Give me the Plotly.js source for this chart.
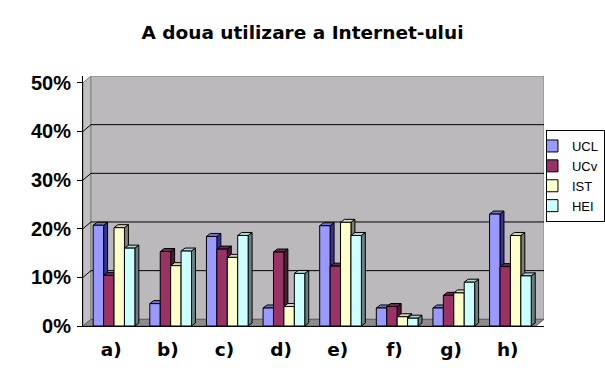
<!DOCTYPE html>
<html>
<head>
<meta charset="utf-8">
<script src="https://cdn.plot.ly/plotly-3.0.1.min.js"></script>
<style>html,body{margin:0;padding:0;background:#fff;}#chart{width:605px;height:377px;}</style>
</head>
<body>
<div id="chart"></div>
<script>
// ---- data ----
const categories = ['a)', 'b)', 'c)', 'd)', 'e)', 'f)', 'g)', 'h)'];
const seriesNames = ['UCL', 'UCv', 'IST', 'HEI'];
const UCL = [20.7, 4.6, 18.4, 3.7, 20.6, 3.7, 3.7, 23.0];
const UCv = [10.4, 15.3, 15.8, 15.2, 12.3, 4.0, 6.3, 12.2];
const IST = [20.2, 12.4, 14.1, 4.0, 21.3, 1.9, 6.8, 18.6];
const HEI = [16.0, 15.4, 18.6, 10.8, 18.6, 1.6, 9.0, 10.3];
const yTicks = [0, 10, 20, 30, 40, 50];
const yTickText = ['0%', '10%', '20%', '30%', '40%', '50%'];

// ---- style ----
const frontColors = ['#9999FF', '#993366', '#FFFFCC', '#CCFFFF'];
const topColors   = ['#7373D9', '#73264D', '#D9D9AD', '#A6D9D9'];
const sideColors  = ['#333399', '#4D1A33', '#80806A', '#6A8080'];
const BOLD = 'DejaVu Sans, Verdana, sans-serif';
const FONT = 'Liberation Sans, Arial, sans-serif';
const series = [UCL, UCv, IST, HEI];
const idx = categories.map((_, i) => i);
const barW = 0.184;
const groupStart = -0.32;
const depthX = 0.141, depthY = 1.377;      // wall depth (axis units)
const bDX = 0.07, bDY = 0.62;              // bar depth (axis units)
const xMin = -0.5, xMax = categories.length - 0.5;
const yMax = yTicks[yTicks.length - 1];

const traces = series.map((vals, k) => ({
  type: 'bar', name: seriesNames[k], x: idx, y: vals,
  width: barW, offset: groupStart + k * barW,
  marker: {color: frontColors[k], line: {color: '#000', width: 1}},
  hoverinfo: 'skip'
}));

const shapes = [];
// side wall
shapes.push({type: 'path', xref: 'x', yref: 'y', layer: 'below',
  path: `M ${xMin},0 L ${xMin + depthX},${depthY} L ${xMin + depthX},${yMax + depthY} L ${xMin},${yMax} Z`,
  fillcolor: '#c3c0c3', line: {color: '#808080', width: 1}});
// back wall
shapes.push({type: 'rect', xref: 'x', yref: 'y', layer: 'below',
  x0: xMin + depthX, x1: xMax + depthX, y0: depthY, y1: yMax + depthY,
  fillcolor: '#bcb9bc', line: {color: '#808080', width: 1}});
// gridlines
yTicks.forEach(t => {
  if (t === 0 || t === yMax) return;
  shapes.push({type: 'line', xref: 'x', yref: 'y', layer: 'below',
    x0: xMin, y0: t, x1: xMin + depthX, y1: t + depthY, line: {color: '#000', width: 1}});
  shapes.push({type: 'line', xref: 'x', yref: 'y', layer: 'below',
    x0: xMin + depthX, y0: t + depthY, x1: xMax + depthX, y1: t + depthY, line: {color: '#000', width: 1}});
});
// floor
shapes.push({type: 'path', xref: 'x', yref: 'y', layer: 'below',
  path: `M ${xMin},0 L ${xMax},0 L ${xMax + depthX},${depthY} L ${xMin + depthX},${depthY} Z`,
  fillcolor: '#8c8c8c', line: {color: '#606060', width: 1}});
// bar side faces
series.forEach((vals, k) => vals.forEach((v, i) => {
  const xr = i + groupStart + (k + 1) * barW;
  shapes.push({type: 'path', xref: 'x', yref: 'y', layer: 'between',
    path: `M ${xr},0 L ${xr + bDX},${bDY} L ${xr + bDX},${v + bDY} L ${xr},${v} Z`,
    fillcolor: sideColors[k], line: {color: '#000', width: 1}});
}));
// bar top faces
series.forEach((vals, k) => vals.forEach((v, i) => {
  const xl = i + groupStart + k * barW, xr = xl + barW;
  shapes.push({type: 'path', xref: 'x', yref: 'y', layer: 'between',
    path: `M ${xl},${v} L ${xl + bDX},${v + bDY} L ${xr + bDX},${v + bDY} L ${xr},${v} Z`,
    fillcolor: topColors[k], line: {color: '#000', width: 1}});
}));

const layout = {
  width: 605, height: 377,
  margin: {l: 83, r: 61, t: 76, b: 51, pad: 0, autoexpand: false},
  paper_bgcolor: '#fff', plot_bgcolor: '#fff',
  barmode: 'overlay',
  showlegend: true,
  title: {text: 'A doua utilizare a Internet-ului', x: 0.5, xanchor: 'center', y: 0.915, yanchor: 'middle',
    font: {family: BOLD, size: 18.5, weight: 'bold', color: '#000'}, automargin: false},
  xaxis: {range: [xMin, xMax + depthX], tickvals: idx, ticktext: categories, ticks: '',
    showgrid: false, zeroline: false, showline: true, linecolor: '#000', linewidth: 1, automargin: false,
    ticklabelstandoff: 7, tickfont: {family: BOLD, size: 18.5, weight: 'bold', color: '#000'}, fixedrange: true},
  xaxis2: {overlaying: 'x', anchor: 'y', side: 'bottom', range: [xMin, xMax + depthX], automargin: false,
    tickvals: idx.concat([xMax]).map(i => i - 0.5), ticks: 'outside', ticklen: 5, tickcolor: '#000',
    showticklabels: false, showgrid: false, zeroline: false, showline: false},
  yaxis: {range: [0, yMax + depthY], tickvals: yTicks, ticktext: yTickText, ticks: 'outside', ticklen: 5,
    tickcolor: '#000', showgrid: false, zeroline: false, showline: true, linecolor: '#000', linewidth: 1,
    automargin: false, ticklabelstandoff: 2,
    tickfont: {family: FONT, size: 20, weight: 'bold', color: '#000'}, fixedrange: true},
  legend: {x: 1.0043, xanchor: 'left', y: 0.784, yanchor: 'top', bgcolor: '#fff',
    bordercolor: '#000', borderwidth: 1, indentation: -15, tracegroupgap: 0,
    font: {family: FONT, size: 13, color: '#000'}},
  shapes: shapes
};

Plotly.newPlot('chart', traces, layout, {displayModeBar: false, staticPlot: true});
</script>
</body>
</html>
